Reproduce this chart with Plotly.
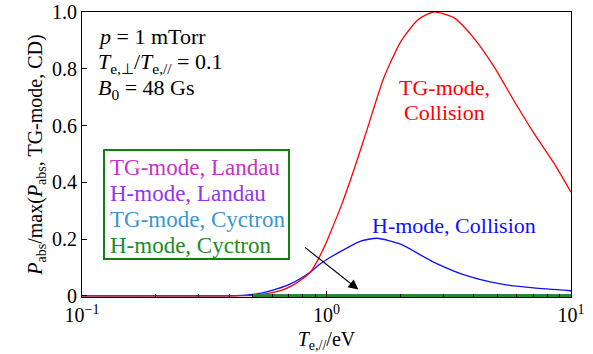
import math
import plotly.graph_objects as go

# ---- data ----
t_red = [0.1, 0.3, 0.4, 0.45, 0.5, 0.57, 0.667, 0.72, 0.78, 0.86, 0.92, 0.97, 1.0, 1.04, 1.14,
         1.29, 1.47, 1.71, 2.01, 2.36, 2.74, 3.31, 3.99, 4.82, 5.82, 7.03, 8.48, 10]
tg_collision = [0, 0, 0, 0.0005, 0.002, 0.008, 0.022, 0.035, 0.054, 0.084, 0.125, 0.165, 0.19, 0.225, 0.31,
                0.44, 0.59, 0.765, 0.895, 0.972, 1.0, 0.98, 0.91, 0.81, 0.69, 0.575, 0.47, 0.365]

t_blue = [0.1, 0.3, 0.4, 0.43, 0.5, 0.574, 0.712, 0.86, 0.944, 1.01, 1.22, 1.38, 1.61, 2.01,
          2.74, 3.77, 5.15, 7.03, 10]
h_collision = [0, 0, 0, 0.0005, 0.005, 0.015, 0.042, 0.084, 0.113, 0.13, 0.17, 0.193, 0.203, 0.182,
               0.119, 0.07, 0.042, 0.028, 0.018]

t_small = [0.5, 1, 2, 5, 10]
tg_landau = [0, 0, 0, 0, 0]
h_landau = [0, 0, 0, 0, 0]
tg_cyc = [0, 0, 0, 0, 0]
h_cyc = [0, 0, 0, 0, 0]

legend_names = ["TG-mode, Landau", "H-mode, Landau", "TG-mode, Cyctron", "H-mode, Cyctron"]
legend_colors = ["#c832c8", "#9632f0", "#3a96d2", "#228b22"]

x_tickvals = [0.1, 1, 10]
x_ticktext = ["10<sup>−1</sup>", "10<sup>0</sup>", "10<sup>1</sup>"]
y_tickvals = [0, 0.2, 0.4, 0.6, 0.8, 1.0]
y_ticktext = ["0", "0.2", "0.4", "0.6", "0.8", "1.0"]

FONT = "Liberation Serif"
TXT = 22
LEG = 23
TICK = 20

fig = go.Figure()
fig.add_trace(go.Scatter(x=t_blue, y=h_collision, mode="lines",
                         line=dict(color="#1010ff", width=1.3, shape="spline", smoothing=0.6)))
fig.add_trace(go.Scatter(x=t_red, y=tg_collision, mode="lines",
                         line=dict(color="#ff0000", width=1.3, shape="spline", smoothing=0.6)))
for ys, c in zip([tg_landau, h_landau, tg_cyc, h_cyc], legend_colors):
    fig.add_trace(go.Scatter(x=t_small, y=ys, mode="lines", line=dict(color=c, width=3)))

# parameter text
params = ["<i>p</i> = 1 mTorr",
          "<i>T</i><sub>e,⊥</sub>/<i>T</i><sub>e,//</sub> = 0.1",
          "<i>B</i><sub>0</sub> = 48 Gs"]
for i, s in enumerate(params):
    fig.add_annotation(x=0, y=1 - (24 + 26.5 * i) / 285, xref="paper", yref="paper",
                       xshift=14, text=s, showarrow=False, xanchor="left", yanchor="middle",
                       font=dict(family=FONT, size=TXT, color="black"))

# legend box
fig.add_shape(type="rect", xref="paper", yref="paper",
              x0=(104 - 82) / 489, x1=(289 - 82) / 489,
              y0=(297 - 259) / 285, y1=(297 - 150) / 285,
              line=dict(color="#108010", width=2), fillcolor="white", layer="above")
for i, (n, c) in enumerate(zip(legend_names, legend_colors)):
    fig.add_annotation(x=(108 - 82) / 489, y=(297 - (167 + 26.3 * i)) / 285, xref="paper", yref="paper",
                       text=n, showarrow=False, xanchor="left", yanchor="middle",
                       font=dict(family=FONT, size=LEG, color=c))

# curve labels
fig.add_annotation(x=math.log10(3.04), y=(297 - 88) / 285, text="TG-mode,", showarrow=False,
                   font=dict(family=FONT, size=TXT, color="#ff0000"))
fig.add_annotation(x=math.log10(3.04), y=(297 - 113) / 285, text="Collision", showarrow=False,
                   font=dict(family=FONT, size=TXT, color="#ff0000"))
fig.add_annotation(x=math.log10(3.31), y=(297 - 226) / 285, text="H-mode, Collision", showarrow=False,
                   font=dict(family=FONT, size=TXT, color="#1010ff"))

# arrow
fig.add_annotation(x=math.log10(1.35), y=0.022, ax=math.log10(0.805), ay=0.175,
                   xref="x", yref="y", axref="x", ayref="y", text="", showarrow=True,
                   arrowhead=2, arrowsize=1.8, arrowwidth=1.1, arrowcolor="black")

fig.update_layout(
    width=593, height=354,
    margin=dict(l=82, r=22, t=12, b=57, autoexpand=False),
    paper_bgcolor="white", plot_bgcolor="white",
    showlegend=False,
    font=dict(family=FONT, size=TICK, color="black"),
)
fig.update_xaxes(type="log", range=[-1, 1], tickvals=x_tickvals, ticktext=x_ticktext,
                 ticks="inside", ticklen=6, tickcolor="black", showline=True, linecolor="black",
                 linewidth=1, mirror=True, showgrid=False, zeroline=False, automargin=False,
                 tickfont=dict(family=FONT, size=TICK),
                 minor=dict(ticks="inside", ticklen=3.5, tickcolor="black",
                            tickvals=[0.2, 0.3, 0.4, 0.5, 0.6, 0.7, 0.8, 0.9,
                                      2, 3, 4, 5, 6, 7, 8, 9], showgrid=False),
                 title=dict(text="<i>T</i><sub>e,//</sub>/eV", font=dict(family=FONT, size=TICK),
                            standoff=6))
fig.update_yaxes(range=[-0.004, 1.0], tickvals=y_tickvals, ticktext=y_ticktext,
                 ticks="inside", ticklen=5, tickcolor="black", showline=True, linecolor="black",
                 linewidth=1, mirror=True, showgrid=False, zeroline=False, automargin=False,
                 tickfont=dict(family=FONT, size=TICK),
                 title=dict(text="<i>P</i><sub>abs</sub>/max(<i>P</i><sub>abs</sub>, TG-mode, CD)",
                            font=dict(family=FONT, size=TICK), standoff=4))

fig.write_html("out.html", config={"displayModeBar": False},
               post_script="document.body.style.margin='0px';")
